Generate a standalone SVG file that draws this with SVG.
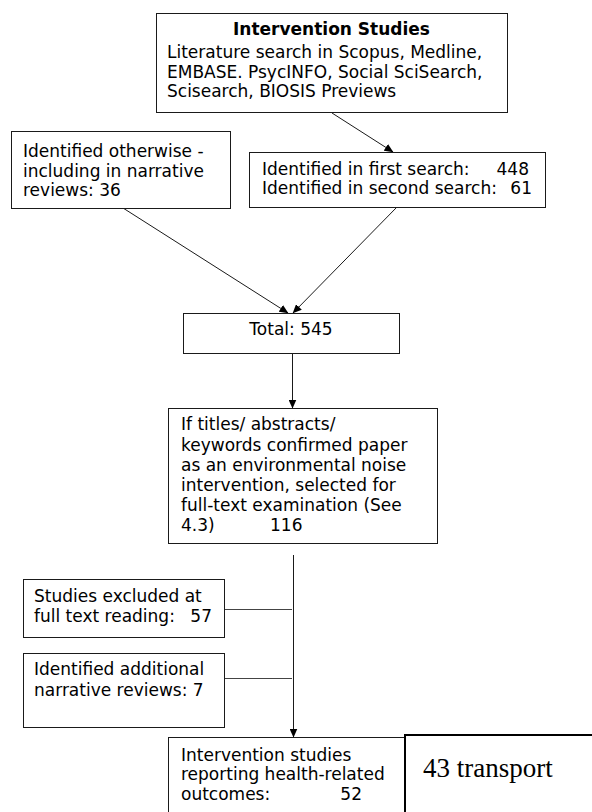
<svg xmlns="http://www.w3.org/2000/svg" width="592" height="812" viewBox="0 0 592 812">
<defs>
<style>
.box{fill:#fff;stroke:#1a1a1a;stroke-width:1}
.t{font-family:"DejaVu Sans",Verdana,sans-serif;font-size:17px;fill:#000}
.b{font-weight:bold}
.ln{stroke:#1a1a1a;stroke-width:1;fill:none}
.side{stroke:#444;stroke-width:1;fill:none}
.tr{font-family:"Liberation Serif","Times New Roman",serif;font-size:27px;fill:#000}
</style>
<marker id="ah" markerWidth="9" markerHeight="8" refX="8.5" refY="4" orient="auto" markerUnits="userSpaceOnUse">
<path d="M0,0 L9,4 L0,8 Z" fill="#000"/>
</marker>
</defs>
<rect width="592" height="812" fill="#fff"/>
<g id="connectors">
<line class="ln" x1="332" y1="113" x2="393" y2="152" marker-end="url(#ah)"/>
<line class="ln" x1="123" y1="208" x2="288" y2="313" marker-end="url(#ah)"/>
<line class="ln" x1="397" y1="207" x2="293" y2="313" marker-end="url(#ah)"/>
<line class="ln" x1="292.5" y1="353" x2="292.5" y2="408" marker-end="url(#ah)"/>
<line class="ln" x1="293.5" y1="555" x2="293.5" y2="737" marker-end="url(#ah)"/>
<line class="side" x1="224" y1="609.5" x2="292" y2="609.5"/>
<line class="side" x1="224" y1="678.5" x2="292" y2="678.5"/>
</g>
<g id="search">
<rect class="box" x="156.5" y="13.5" width="351" height="99"/>
<text class="t b" x="331.5" y="35" text-anchor="middle">Intervention Studies</text>
<text class="t" x="167" y="58">Literature search in Scopus, Medline,</text>
<text class="t" x="167" y="78">EMBASE. PsycINFO, Social SciSearch,</text>
<text class="t" x="167" y="97">Scisearch, BIOSIS Previews</text>
</g>
<g id="otherwise">
<rect class="box" x="11.5" y="131.5" width="219" height="77"/>
<text class="t" x="23" y="157">Identified otherwise -</text>
<text class="t" x="23" y="177">including in narrative</text>
<text class="t" x="23" y="196">reviews: 36</text>
</g>
<g id="identified">
<rect class="box" x="249.5" y="152.5" width="296" height="55"/>
<text class="t" x="262" y="175">Identified in first search:</text>
<text class="t" x="529" y="175" text-anchor="end">448</text>
<text class="t" x="262" y="194">Identified in second search:</text>
<text class="t" x="532" y="194" text-anchor="end">61</text>
</g>
<g id="total">
<rect class="box" x="183.5" y="313.5" width="216" height="40"/>
<text class="t" x="291" y="335" text-anchor="middle">Total: 545</text>
</g>
<g id="screened">
<rect class="box" x="168.5" y="408.5" width="269" height="135"/>
<text class="t" x="181" y="430">If titles/ abstracts/</text>
<text class="t" x="181" y="450.5">keywords confirmed paper</text>
<text class="t" x="181" y="471">as an environmental noise</text>
<text class="t" x="181" y="491">intervention, selected for</text>
<text class="t" x="181" y="511">full-text examination (See</text>
<text class="t" x="181" y="531">4.3)</text>
<text class="t" x="270" y="531">116</text>
</g>
<g id="excluded">
<rect class="box" x="23.5" y="579.5" width="201" height="58"/>
<text class="t" x="34" y="602">Studies excluded at</text>
<text class="t" x="34" y="622">full text reading:</text>
<text class="t" x="212" y="622" text-anchor="end">57</text>
</g>
<g id="additional">
<rect class="box" x="23.5" y="653.5" width="201" height="74"/>
<text class="t" x="34" y="675">Identified additional</text>
<text class="t" x="34" y="696">narrative reviews: 7</text>
</g>
<g id="outcomes">
<rect class="box" x="168.5" y="737.5" width="237" height="90"/>
<text class="t" x="181" y="761">Intervention studies</text>
<text class="t" x="181" y="780">reporting health-related</text>
<text class="t" x="181" y="800">outcomes:</text>
<text class="t" x="362" y="800" text-anchor="end">52</text>
</g>
<g id="transport">
<rect x="405" y="735" width="200" height="100" fill="#fff" stroke="#000" stroke-width="2"/>
<text class="tr" x="423" y="777">43 transport</text>
</g>
</svg>
